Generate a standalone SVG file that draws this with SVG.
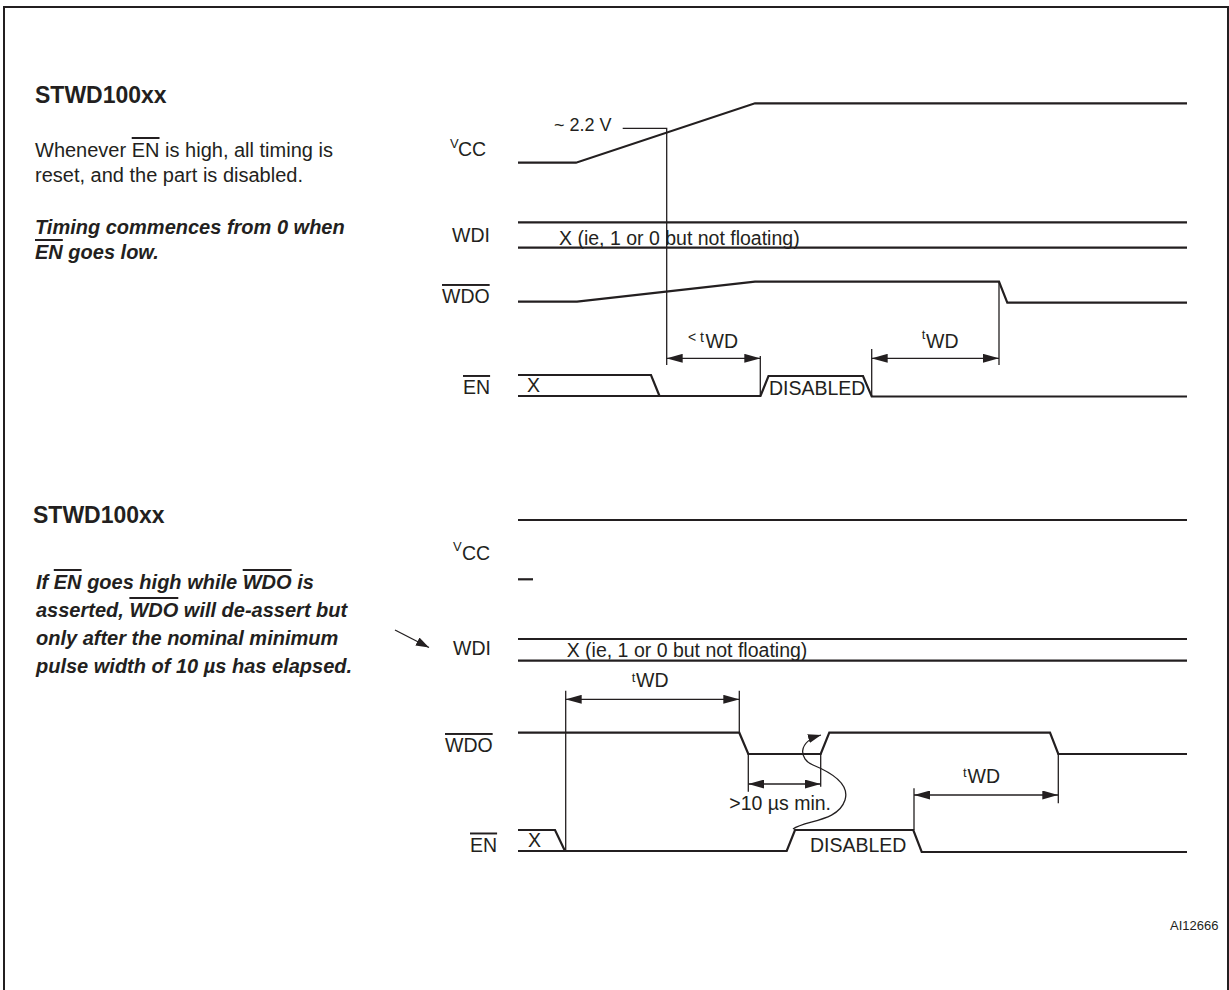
<svg xmlns="http://www.w3.org/2000/svg" width="1229" height="990" viewBox="0 0 1229 990">
<defs>
<style>
text{font-family:"Liberation Sans",Arial,Helvetica,sans-serif;fill:#231f20}
.ttl{font-size:23px;font-weight:bold}
.body{font-size:20px}
.bi{font-size:20px;font-weight:bold;font-style:italic}
.lbl{font-size:19.5px}
.sm{font-size:13px}
.ol{text-decoration:overline}
.wave{fill:none;stroke:#231f20;stroke-width:2.2;stroke-linejoin:miter}
.dim{fill:none;stroke:#231f20;stroke-width:1.3}
.frame{fill:none;stroke:#231f20;stroke-width:2}
</style>
<marker id="ah" viewBox="0 0 16 9" refX="16" refY="4.5" markerWidth="16" markerHeight="9" markerUnits="userSpaceOnUse" orient="auto-start-reverse"><path d="M0,0 L16,4.5 L0,9 z" fill="#231f20"/></marker>
<marker id="ahc" viewBox="0 0 13 9" refX="13" refY="4.5" markerWidth="13" markerHeight="9" markerUnits="userSpaceOnUse" orient="auto"><path d="M0,0 L13,4.5 L0,9 z" fill="#231f20"/></marker>
</defs>
<rect width="1229" height="990" fill="#ffffff"/>
<rect class="frame" x="4" y="7" width="1224" height="1000"/>

<g id="note-top">
<text class="ttl" x="35" y="103">STWD100xx</text>
<text class="body" x="35" y="157">Whenever <tspan class="ol">EN</tspan> is high, all timing is</text>
<text class="body" x="35" y="182">reset, and the part is disabled.</text>
<text class="bi" x="35" y="234">Timing commences from 0 when</text>
<text class="bi" x="35" y="259"><tspan class="ol">EN</tspan> goes low.</text>
</g>

<g id="note-bottom">
<text class="ttl" x="33" y="523">STWD100xx</text>
<text class="bi" x="36" y="589">If <tspan class="ol">EN</tspan> goes high while <tspan class="ol">WDO</tspan> is</text>
<text class="bi" x="36" y="617">asserted, <tspan class="ol">WDO</tspan> will de-assert but</text>
<text class="bi" x="36" y="645">only after the nominal minimum</text>
<text class="bi" x="36" y="673">pulse width of 10 µs has elapsed.</text>
</g>

<!-- top diagram -->
<g id="vcc-top">
<text x="450" y="148" class="sm">V</text><text x="458" y="156" class="lbl">CC</text>
<polyline class="wave" points="518,162.7 576,162.7 755,103.3 1187,103.3"/>
<text x="554" y="131" style="font-size:18px">~ 2.2 V</text>
</g>
<g id="wdi-top">
<text x="452" y="242" class="lbl">WDI</text>
<line class="wave" x1="518" y1="222.3" x2="1187" y2="222.3"/>
<line class="wave" x1="518" y1="247.7" x2="1187" y2="247.7"/>
<text x="559" y="245" class="lbl">X (ie, 1 or 0 but not floating)</text>
</g>
<g id="wdo-top">
<text x="442" y="303" class="lbl"><tspan class="ol">WDO</tspan></text>
<polyline class="wave" points="518,301.7 577,301.7 755,281.7 999,281.7 1007.3,302.7 1187,302.7"/>
</g>
<g id="en-top">
<text x="463" y="394" class="lbl"><tspan class="ol">EN</tspan></text>
<polyline class="wave" points="518,375 651,375 659.5,396"/>
<polyline class="wave" points="518,396 760.5,396 768.5,376 863,376 871.7,396.5 1187,396.5"/>
<text x="527" y="392" class="lbl">X</text>
<text x="769" y="395" class="lbl">DISABLED</text>
</g>

<!-- bottom diagram -->
<g id="vcc-bottom">
<text x="453" y="551" class="sm">V</text><text x="462" y="560" class="lbl">CC</text>
<line class="wave" x1="518" y1="520" x2="1187" y2="520"/>
<line class="wave" x1="518" y1="579.3" x2="533" y2="579.3"/>
</g>
<g id="wdi-bottom">
<text x="453" y="655" class="lbl">WDI</text>
<line class="wave" x1="518" y1="639" x2="1187" y2="639"/>
<line class="wave" x1="518" y1="660.7" x2="1187" y2="660.7"/>
<text x="566.7" y="656.5" class="lbl">X (ie, 1 or 0 but not floating)</text>
</g>
<g id="wdo-bottom">
<text x="445" y="752" class="lbl"><tspan class="ol">WDO</tspan></text>
<polyline class="wave" points="518,732.7 739.3,732.7 748.3,754 820.7,754 829.3,732.7 1050,732.7 1058.3,754 1187,754"/>
</g>
<g id="en-bottom">
<text x="470" y="851.5" class="lbl"><tspan class="ol">EN</tspan></text>
<polyline class="wave" points="518,830 555,830 565,851"/>
<polyline class="wave" points="518,851 786.7,851 795,830 913.3,830 921.7,852 1187,852"/>
<text x="528" y="846.7" class="lbl">X</text>
<text x="810" y="851.5" class="lbl">DISABLED</text>
</g>

<g id="connectors">
<!-- top -->
<polyline class="dim" points="622.7,128.3 666.7,128.3 666.7,365"/>
<line class="dim" x1="760.3" y1="356" x2="760.3" y2="396"/>
<line class="dim" x1="871.7" y1="349" x2="871.7" y2="396"/>
<line class="dim" x1="999" y1="281.7" x2="999" y2="365"/>
<line class="dim" x1="666.7" y1="358.3" x2="760.3" y2="358.3" marker-start="url(#ah)" marker-end="url(#ah)"/>
<line class="dim" x1="871.7" y1="358.3" x2="999" y2="358.3" marker-start="url(#ah)" marker-end="url(#ah)"/>
<text x="688" y="342" style="font-size:14px">&lt; t</text><text x="705.5" y="348" class="lbl">WD</text>
<text x="921.7" y="339" class="sm">t</text><text x="926" y="348" class="lbl">WD</text>
<!-- bottom -->
<line class="dim" x1="395" y1="630" x2="429" y2="647.5" marker-end="url(#ahc)"/>
<line class="dim" x1="565.7" y1="690.7" x2="565.7" y2="851"/>
<line class="dim" x1="739.3" y1="690.7" x2="739.3" y2="732.7"/>
<line class="dim" x1="565.7" y1="699.3" x2="739.3" y2="699.3" marker-start="url(#ah)" marker-end="url(#ah)"/>
<text x="631.7" y="682" class="sm">t</text><text x="636" y="687" class="lbl">WD</text>
<line class="dim" x1="748.3" y1="754" x2="748.3" y2="791.7"/>
<line class="dim" x1="820.7" y1="754" x2="820.7" y2="786.7"/>
<line class="dim" x1="748.3" y1="784" x2="820.7" y2="784" marker-start="url(#ah)" marker-end="url(#ah)"/>
<text x="729.3" y="810" class="lbl">&gt;10 µs min.</text>
<path class="dim" d="M793,829 C805,820 838,822 845,800 C850,784 830,772 813,765 C799,759 797,742 821,735" marker-end="url(#ahc)"/>
<line class="dim" x1="914" y1="788.3" x2="914" y2="830"/>
<line class="dim" x1="1058.3" y1="754" x2="1058.3" y2="803.3"/>
<line class="dim" x1="914" y1="795" x2="1058.3" y2="795" marker-start="url(#ah)" marker-end="url(#ah)"/>
<text x="963" y="777" class="sm">t</text><text x="967.5" y="783.3" class="lbl">WD</text>
</g>

<text x="1170" y="930" style="font-size:13px">AI12666</text>
</svg>
